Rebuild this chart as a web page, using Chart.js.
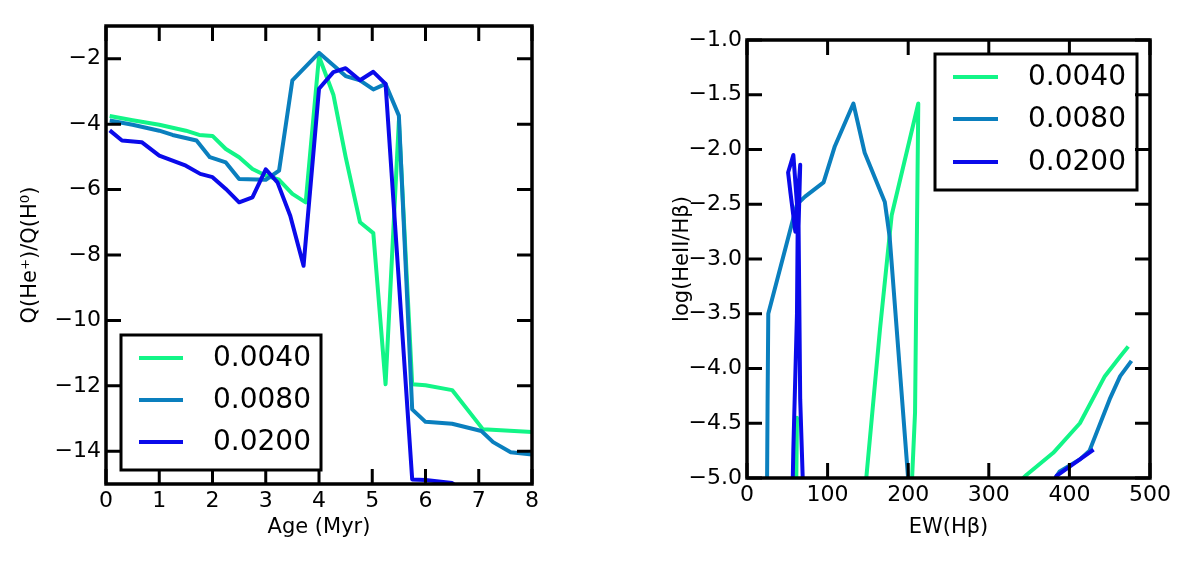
<!DOCTYPE html>
<html>
<head>
<meta charset="utf-8">
<script src="https://cdn.jsdelivr.net/npm/chart.js@4.4.1/dist/chart.umd.min.js"></script>
<style>
  html, body { margin: 0; padding: 0; background: #fff; }
  .panel { position: absolute; top: 0; width: 600px; height: 582px; }
  #left-panel { left: 0; }
  #right-panel { left: 600px; }
</style>
</head>
<body>
<div class="panel" id="left-panel"><canvas id="age-chart" width="600" height="582"></canvas></div>
<div class="panel" id="right-panel"><canvas id="ew-chart" width="600" height="582"></canvas></div>
<script>
// Metallicities and colours
const seriesLabels = ['0.0040', '0.0080', '0.0200'];
const seriesColors = ['#12f587', '#0a7fbe', '#0a0aea'];

// Left panel: Q(He+)/Q(H0) against age (Myr)
const agesZ004 = [0.07, 0.5, 1.0, 1.5, 1.75, 2.0, 2.25, 2.5, 2.75, 3.0, 3.25, 3.5, 3.75, 4.0, 4.27, 4.5, 4.77, 5.02, 5.25, 5.5, 5.75, 6.0, 6.5, 7.08, 8.0];
const qZ004 = [-3.75, -3.88, -4.02, -4.2, -4.33, -4.36, -4.76, -5.01, -5.37, -5.57, -5.7, -6.13, -6.39, -1.93, -3.1, -5.0, -7.0, -7.33, -11.95, -3.9, -11.95, -11.98, -12.13, -13.33, -13.41];

const agesZ008 = [0.07, 0.5, 1.0, 1.25, 1.7, 1.95, 2.25, 2.5, 3.0, 3.25, 3.5, 4.0, 4.5, 4.77, 5.02, 5.25, 5.5, 5.75, 6.0, 6.5, 7.05, 7.27, 7.6, 8.0];
const qZ008 = [-3.89, -4.02, -4.2, -4.33, -4.5, -5.01, -5.17, -5.68, -5.7, -5.42, -2.66, -1.82, -2.53, -2.66, -2.94, -2.77, -3.74, -12.72, -13.1, -13.16, -13.38, -13.72, -14.03, -14.1];

const agesZ020 = [0.07, 0.3, 0.67, 1.0, 1.5, 1.77, 2.0, 2.25, 2.5, 2.75, 3.0, 3.22, 3.46, 3.71, 4.0, 4.27, 4.5, 4.77, 5.02, 5.25, 5.75, 6.0, 6.5, 7.0, 8.0];
const qZ020 = [-4.19, -4.5, -4.55, -4.96, -5.27, -5.52, -5.62, -5.98, -6.39, -6.24, -5.38, -5.78, -6.8, -8.33, -2.92, -2.41, -2.29, -2.66, -2.4, -2.77, -14.86, -14.88, -14.97, -15.6, -16.0];

const ageTicks = [0, 1, 2, 3, 4, 5, 6, 7, 8];
const qTicks = [-14, -12, -10, -8, -6, -4, -2];

// Right panel: log(HeII/Hbeta) against EW(Hbeta), in time order
const ewZ004 = [473, 463, 444, 413, 380, 347, 300, 255, 203, 208.5, 212.5, 179.5, 165, 148, 120, 80, 58, 62, 59, 40];
const heZ004 = [-3.80, -3.89, -4.07, -4.50, -4.77, -4.97, -5.3, -5.6, -5.3, -4.4, -1.58, -2.6, -3.64, -5.0, -5.6, -5.8, -6.5, -4.45, -6.5, -6.0];

const ewZ008 = [477, 463, 450, 425, 413, 388, 378, 300, 203, 177, 171, 146, 132, 109, 95, 72, 62, 26.4, 25.5, 24.5];
const heZ008 = [-3.93, -4.07, -4.28, -4.75, -4.83, -4.94, -5.05, -6.0, -5.3, -2.8, -2.48, -2.03, -1.58, -1.97, -2.3, -2.43, -2.5, -3.5, -4.35, -5.5];

const ewZ020 = [430, 413, 384, 370, 300, 200, 100, 56, 57.5, 62, 63, 57.5, 51, 54, 60, 66, 64, 66, 70, 71];
const heZ020 = [-4.74, -4.83, -4.98, -5.3, -5.6, -5.9, -6.5, -5.3, -4.74, -3.5, -2.6, -2.05, -2.21, -2.4, -2.75, -2.14, -2.7, -4.28, -5.2, -6.0];

const ewTicks = [0, 100, 200, 300, 400, 500];
const heTicks = [-5, -4.5, -4, -3.5, -3, -2.5, -2, -1.5, -1];

Chart.defaults.font.family = 'DejaVu Sans';
Chart.defaults.color = '#000';

const toPoints = (xs, ys) => xs.map((x, i) => ({ x: x, y: ys[i] }));
const minus = s => String(s).replace('-', '\u2212');

// Boxed legend drawn inside the plot, matplotlib style
const boxLegend = {
  id: 'boxLegend',
  afterDatasetsDraw(chart, args, opts) {
    const ctx = chart.ctx;
    ctx.save();
    ctx.fillStyle = '#fff';
    ctx.fillRect(opts.x, opts.y, opts.w, opts.h);
    ctx.lineWidth = 3;
    ctx.strokeStyle = '#000';
    ctx.strokeRect(opts.x, opts.y, opts.w, opts.h);
    ctx.font = '28px "DejaVu Sans"';
    ctx.textBaseline = 'middle';
    ctx.textAlign = 'left';
    chart.data.datasets.forEach((ds, i) => {
      const ry = opts.rows[i];
      ctx.strokeStyle = ds.borderColor;
      ctx.lineWidth = 4;
      ctx.beginPath();
      ctx.moveTo(opts.lineX0, ry);
      ctx.lineTo(opts.lineX1, ry);
      ctx.stroke();
      ctx.fillStyle = '#000';
      ctx.fillText(ds.label, opts.textX, ry + 1);
    });
    ctx.restore();
  }
};

// Frame with inward ticks on all four sides
const frameTicks = {
  id: 'frameTicks',
  afterDraw(chart) {
    const { ctx, chartArea: a, scales: { x, y } } = chart;
    const len = 15;
    ctx.save();
    ctx.strokeStyle = '#000';
    ctx.lineWidth = 3;
    ctx.beginPath();
    x.ticks.forEach(t => {
      const px = x.getPixelForValue(t.value);
      ctx.moveTo(px, a.bottom); ctx.lineTo(px, a.bottom - len);
      ctx.moveTo(px, a.top); ctx.lineTo(px, a.top + len);
    });
    y.ticks.forEach(t => {
      const py = y.getPixelForValue(t.value);
      ctx.moveTo(a.left, py); ctx.lineTo(a.left + len, py);
      ctx.moveTo(a.right, py); ctx.lineTo(a.right - len, py);
    });
    ctx.stroke();
    ctx.lineWidth = 3.5;
    ctx.strokeRect(a.left, a.top, a.right - a.left, a.bottom - a.top);
    ctx.restore();
  }
};

// first series at the bottom, last on top (as plotted in the original)
function makeDatasets(pairs) {
  return pairs.map((p, i) => ({
    label: seriesLabels[i],
    data: toPoints(p[0], p[1]),
    borderColor: seriesColors[i],
    borderWidth: 4,
    borderJoinStyle: 'round',
    pointRadius: 0,
    tension: 0,
    fill: false,
    order: pairs.length - i
  }));
}

function axis(opt) {
  return {
    type: 'linear',
    min: opt.min,
    max: opt.max,
    grid: { display: false, drawTicks: false },
    border: { display: false },
    afterBuildTicks: s => { s.ticks = opt.ticks.map(v => ({ value: v })); },
    afterFit: opt.fit,
    ticks: {
      autoSkip: false,
      padding: opt.pad,
      font: { size: 22 },
      callback: opt.fmt
    },
    title: { display: true, text: opt.title, font: { size: 21 } }
  };
}

function makeChart(canvasId, datasets, scales, padding, legend) {
  return new Chart(document.getElementById(canvasId), {
    type: 'line',
    data: { datasets: datasets },
    options: {
      responsive: false,
      animation: false,
      devicePixelRatio: 1,
      layout: { padding: padding },
      scales: scales,
      plugins: {
        legend: { display: false },
        tooltip: { enabled: false },
        boxLegend: legend
      }
    },
    plugins: [boxLegend, frameTicks]
  });
}

makeChart('age-chart',
  makeDatasets([[agesZ004, qZ004], [agesZ008, qZ008], [agesZ020, qZ020]]),
  {
    x: axis({ min: 0, max: 8, ticks: ageTicks, pad: 4, fmt: v => minus(v), title: 'Age (Myr)',
              fit: s => { s.height = 60; } }),
    y: axis({ min: -15, max: -1, ticks: qTicks, pad: 5, fmt: v => minus(v), title: 'Q(He\u207A)/Q(H\u2070)',
              fit: s => { s.width = 92; } })
  },
  { left: 14, top: 26, right: 68, bottom: 38 },
  { x: 121, y: 335, w: 200, h: 135, lineX0: 139, lineX1: 183, textX: 213, rows: [358, 400, 442] }
);

makeChart('ew-chart',
  makeDatasets([[ewZ004, heZ004], [ewZ008, heZ008], [ewZ020, heZ020]]),
  {
    x: axis({ min: 0, max: 500, ticks: ewTicks, pad: 4, fmt: v => minus(v), title: 'EW(H\u03B2)',
              fit: s => { s.height = 66; } }),
    y: axis({ min: -5, max: -1, ticks: heTicks, pad: 5, fmt: v => minus(Number(v).toFixed(1)), title: 'log(HeII/H\u03B2)',
              fit: s => { s.width = 81; } })
  },
  { left: 66, top: 40, right: 50, bottom: 38 },
  { x: 335, y: 54, w: 202, h: 136, lineX0: 353, lineX1: 398, textX: 428, rows: [77, 119, 162] }
);
</script>
</body>
</html>
